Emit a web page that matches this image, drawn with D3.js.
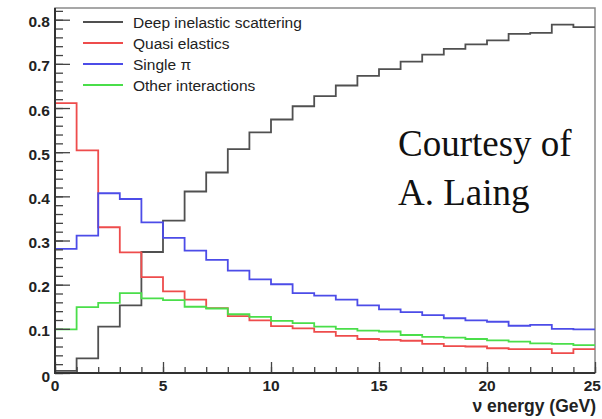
<!DOCTYPE html>
<html>
<head>
<meta charset="utf-8">
<script src="https://cdn.jsdelivr.net/npm/d3@7"></script>
<style>
body { margin: 0; background: #fff; }
svg { display: block; }
</style>
</head>
<body>
<svg width="602" height="419"></svg>
<script>
// bin edges 0..25 GeV, 1 GeV per bin
var binEdges = d3.range(0, 26);
var disValues = [0.005, 0.033, 0.105, 0.153, 0.274, 0.345, 0.411, 0.454, 0.507, 0.545, 0.574, 0.604, 0.627, 0.651, 0.673, 0.688, 0.705, 0.721, 0.734, 0.744, 0.753, 0.768, 0.770, 0.789, 0.783];
var qeValues = [0.611, 0.504, 0.330, 0.273, 0.217, 0.185, 0.166, 0.147, 0.129, 0.119, 0.106, 0.101, 0.093, 0.084, 0.077, 0.075, 0.073, 0.066, 0.061, 0.060, 0.056, 0.054, 0.054, 0.045, 0.054];
var piValues = [0.281, 0.311, 0.407, 0.394, 0.341, 0.306, 0.277, 0.256, 0.232, 0.212, 0.201, 0.181, 0.175, 0.166, 0.153, 0.144, 0.138, 0.131, 0.124, 0.119, 0.116, 0.107, 0.109, 0.100, 0.099];
var otherValues = [0.099, 0.149, 0.159, 0.181, 0.169, 0.165, 0.150, 0.146, 0.133, 0.127, 0.118, 0.113, 0.105, 0.100, 0.096, 0.094, 0.086, 0.082, 0.080, 0.077, 0.074, 0.071, 0.067, 0.066, 0.063];

var seriesNames = ["Deep inelastic scattering", "Quasi elastics", "Single \u03c0", "Other interactions"];
var seriesColors = ["#505050", "#ee4c4c", "#4c4ce8", "#4ade4a"];
var yTickLabels = ["0", "0.1", "0.2", "0.3", "0.4", "0.5", "0.6", "0.7", "0.8"];
var xTickLabels = ["0", "5", "10", "15", "20", "25"];

var allSeries = [disValues, qeValues, piValues, otherValues];

var plotLeft = 55, plotRight = 595, plotTop = 8, plotBottom = 373;

var svg = d3.select("svg");

var xScale = d3.scaleLinear().domain([0, 25]).range([plotLeft, plotRight]);
var yScale = d3.scaleLinear().domain([0, 0.8265]).range([plotBottom, plotTop]);

// frame (top and right in grey)
svg.append("rect")
    .attr("x", plotLeft).attr("y", plotTop)
    .attr("width", plotRight - plotLeft).attr("height", plotBottom - plotTop)
    .attr("fill", "none").attr("stroke", "#8a8a8a").attr("stroke-width", 1.5);

// histograms
var stepLine = d3.line()
    .x(function(d){ return xScale(d.x); })
    .y(function(d){ return yScale(d.y); })
    .curve(d3.curveStepAfter);

var makePoints = function(values)
{
    var points = values.map(function(v, i){ return {x: binEdges[i], y: v}; });
    points.push({x: binEdges[values.length], y: values[values.length - 1]});
    return points;
}

svg.selectAll("path.hist").data(allSeries).enter().append("path")
    .attr("class", "hist")
    .attr("d", function(values){ return stepLine(makePoints(values)); })
    .attr("fill", "none")
    .attr("stroke", function(d, i){ return seriesColors[i]; })
    .attr("stroke-width", 1.8);

// y axis
var yAxis = d3.axisRight(yScale)
    .tickValues(d3.range(0, 0.81, 0.1))
    .tickSize(15)
    .tickFormat("");
var yMinor = d3.axisRight(yScale)
    .tickValues(d3.range(0, 0.821, 0.02))
    .tickSize(8)
    .tickFormat("");

svg.append("g").attr("transform", "translate(" + plotLeft + ",0)").call(yMinor);
svg.append("g").attr("transform", "translate(" + plotLeft + ",0)").call(yAxis);

// x axis
var xAxis = d3.axisTop(xScale).tickValues(d3.range(0, 26, 5)).tickSize(11).tickFormat("");
var xMinor = d3.axisTop(xScale).tickValues(d3.range(0, 26, 1)).tickSize(6).tickFormat("");
svg.append("g").attr("transform", "translate(0," + plotBottom + ")").call(xMinor);
svg.append("g").attr("transform", "translate(0," + plotBottom + ")").call(xAxis);

svg.selectAll(".domain").attr("stroke", "none");
svg.selectAll(".tick line").attr("stroke", "#444").attr("stroke-width", 1.3);

// dark axis lines
svg.append("line").attr("x1", plotLeft).attr("x2", plotLeft).attr("y1", plotTop).attr("y2", plotBottom + 1)
    .attr("stroke", "#333").attr("stroke-width", 2);
svg.append("line").attr("x1", plotLeft - 1).attr("x2", plotRight).attr("y1", plotBottom).attr("y2", plotBottom)
    .attr("stroke", "#333").attr("stroke-width", 2);

// tick labels
svg.selectAll("text.ylab").data(yTickLabels).enter().append("text")
    .attr("class", "ylab")
    .attr("x", 50)
    .attr("y", function(d){ return d == "0" ? yScale(0) + 9 : yScale(+d) + 7.5; })
    .attr("text-anchor", "end")
    .attr("font-family", "Liberation Sans, Arial, sans-serif")
    .attr("font-weight", "bold")
    .attr("font-size", 15.5)
    .attr("fill", "#222")
    .text(function(d){ return d; });

// last label would run off the right edge, so pin it to the edge
svg.selectAll("text.xlab").data(xTickLabels).enter().append("text")
    .attr("class", "xlab")
    .attr("x", function(d){ return d == "25" ? 601 : xScale(+d); })
    .attr("y", 390.5)
    .attr("text-anchor", function(d){ return d == "25" ? "end" : "middle"; })
    .attr("font-family", "Liberation Sans, Arial, sans-serif")
    .attr("font-weight", "bold")
    .attr("font-size", 15.5)
    .attr("fill", "#222")
    .text(function(d){ return d; });

svg.append("text")
    .attr("x", 596).attr("y", 412)
    .attr("text-anchor", "end")
    .attr("font-family", "Liberation Sans, Arial, sans-serif")
    .attr("font-weight", "bold")
    .attr("font-size", 17.5)
    .attr("fill", "#222")
    .text("\u03bd energy (GeV)");

// legend
var legend = svg.selectAll("g.legend").data(seriesNames).enter().append("g")
    .attr("class", "legend")
    .attr("transform", function(d, i){ return "translate(0," + (22 + i * 21) + ")"; });
legend.append("line")
    .attr("x1", 83).attr("x2", 123).attr("y1", 0).attr("y2", 0)
    .attr("stroke", function(d, i){ return seriesColors[i]; })
    .attr("stroke-width", 1.8);
legend.append("text")
    .attr("x", 133).attr("y", 5.5)
    .attr("font-family", "Liberation Sans, Arial, sans-serif")
    .attr("font-size", 15.5)
    .attr("fill", "#222")
    .text(function(d){ return d; });

// courtesy note
svg.append("text")
    .attr("x", 398).attr("y", 156)
    .attr("font-family", "Liberation Serif, Times New Roman, serif")
    .attr("font-size", 37)
    .attr("fill", "#111")
    .text("Courtesy of");
svg.append("text")
    .attr("x", 398).attr("y", 205)
    .attr("font-family", "Liberation Serif, Times New Roman, serif")
    .attr("font-size", 37)
    .attr("fill", "#111")
    .text("A. Laing");
</script>
</body>
</html>
